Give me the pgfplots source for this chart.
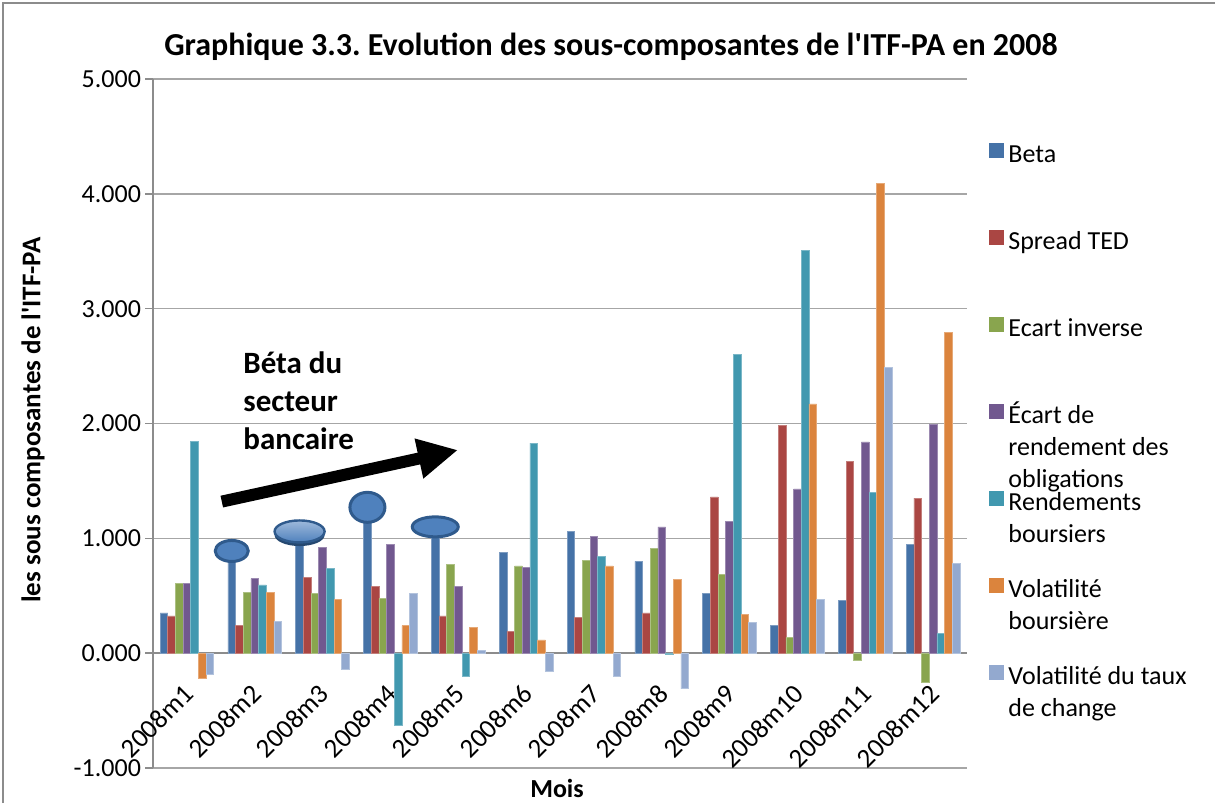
\documentclass[border=0pt]{standalone}
\usepackage{fontspec}
\setmainfont{Carlito}
\usepackage{pgfplots}
\usepackage{pgfplotstable}
\pgfplotsset{compat=1.18}
\usetikzlibrary{arrows.meta}
\frenchspacing

\definecolor{cBeta}{HTML}{4572A7}
\definecolor{cSpread}{HTML}{AA4643}
\definecolor{cEcInv}{HTML}{89A54E}
\definecolor{cEcRend}{HTML}{71588F}
\definecolor{cRend}{HTML}{4198AF}
\definecolor{cVolB}{HTML}{DB843D}
\definecolor{cVolT}{HTML}{93A9CF}
\definecolor{gridgray}{HTML}{A6A6A6}
\definecolor{axisgray}{HTML}{8C8C8C}
\definecolor{framegray}{HTML}{8C8C8C}
\definecolor{pinfill}{HTML}{4F81BD}
\definecolor{pinborder}{HTML}{2F5A8C}

\pgfplotstableread{
m  beta  spread ecinv  ecrend rend   volb   volt
1  0.35  0.325  0.607  0.607  1.844  -0.22  -0.18
2  0.89  0.24   0.53   0.65   0.595  0.53   0.28
3  1.06  0.66   0.517  0.92   0.74   0.47   -0.14
4  1.27  0.58   0.48   0.95   -0.63  0.24   0.52
5  1.10  0.325  0.77   0.58   -0.20  0.227  0.025
6  0.88  0.19   0.76   0.75   1.83   0.115  -0.16
7  1.06  0.31   0.81   1.02   0.84   0.76   -0.20
8  0.80  0.35   0.91   1.10   -0.01  0.64   -0.31
9  0.52  1.36   0.686  1.145  2.60   0.34   0.27
10 0.24  1.98   0.135  1.43   3.51   2.17   0.47
11 0.46  1.67   -0.06  1.84   1.40   4.09   2.49
12 0.95  1.35   -0.25  1.99   0.17   2.79   0.78
}\datatable

\pgfplotsset{sqlegend/.style={legend image code/.code={\fill[##1,draw=none] (0pt,-2pt) rectangle (7.5pt,5.5pt);}}}
\newcommand\legtxt[1]{\smash{\parbox[t]{3.6cm}{#1}}\rule{0pt}{10pt}}

\begin{document}
\begin{tikzpicture}
\useasboundingbox (0pt,0pt) rectangle (607.5pt,401.5pt);
\draw[framegray, line width=1.2pt] (1.5pt,0pt) -- (1.5pt,400pt) -- (607.5pt,400pt);
\begin{axis}[
  at={(76.5pt,17.5pt)}, anchor=south west,
  scale only axis, width=407pt, height=344.5pt,
  xmin=0.5, xmax=12.5, ymin=-1, ymax=5,
  ytick={-1,0,1,2,3,4,5},
  xtick={1,...,12},
  xticklabels={2008m1,2008m2,2008m3,2008m4,2008m5,2008m6,2008m7,2008m8,2008m9,2008m10,2008m11,2008m12},
  axis x line*=middle, axis y line*=left,
  hide obscured x ticks=false, hide obscured y ticks=false,
  axis line style={axisgray, line width=0.8pt},
  ytick style={axisgray, line width=0.8pt},
  xtick style={draw=none},
  tick align=outside, major tick length=4pt,
  ymajorgrids, grid style={gridgray, line width=0.8pt},
  ybar=0pt, bar width=0.113,
  /pgf/number format/assume math mode=true,
  yticklabel={\pgfmathprintnumber[fixed,fixed zerofill,precision=3]{\tick}},
  yticklabel style={font=\fontsize{13}{15}\selectfont, xshift=1.5pt},
  xticklabel style={xshift=-2.5pt, yshift=-10.5pt, font=\fontsize{13.5}{15}\selectfont, rotate=45, anchor=north east, inner sep=0pt},
  legend style={draw=none, fill=none, at={(1,1)}, anchor=north west, xshift=8pt, yshift=-27.5pt,
    font=\fontsize{13}{16}\selectfont, row sep=28pt, nodes={inner sep=2pt}},
  legend cell align=left,
]
\addplot[fill=cBeta, draw=cBeta!70!white, line width=0.3pt, sqlegend] table[x=m,y=beta]{\datatable};
\addlegendentry{\legtxt{Beta}}
\addplot[fill=cSpread, draw=cSpread!70!white, line width=0.3pt, sqlegend] table[x=m,y=spread]{\datatable};
\addlegendentry{\legtxt{Spread TED}}
\addplot[fill=cEcInv, draw=cEcInv!70!white, line width=0.3pt, sqlegend] table[x=m,y=ecinv]{\datatable};
\addlegendentry{\legtxt{Ecart inverse}}
\addplot[fill=cEcRend, draw=cEcRend!70!white, line width=0.3pt, sqlegend] table[x=m,y=ecrend]{\datatable};
\addlegendentry{\legtxt{Écart de\\rendement des\\obligations}}
\addplot[fill=cRend, draw=cRend!70!white, line width=0.3pt, sqlegend] table[x=m,y=rend]{\datatable};
\addlegendentry{\legtxt{Rendements\\boursiers}}
\addplot[fill=cVolB, draw=cVolB!70!white, line width=0.3pt, sqlegend] table[x=m,y=volb]{\datatable};
\addlegendentry{\legtxt{Volatilité\\boursière}}
\addplot[fill=cVolT, draw=cVolT!70!white, line width=0.3pt, sqlegend] table[x=m,y=volt]{\datatable};
\addlegendentry{\legtxt{Volatilité du taux\\de change}}
% pins
\draw[pinborder, line width=1.5pt, fill=pinfill] (axis cs:1.661,0.89) ellipse (8.25pt and 5.25pt);
\fill[pinborder!80!black] (axis cs:2.661,1.06) ++(0pt,-1.8pt) ellipse (12.5pt and 5.5pt);
\draw[pinborder, line width=1.2pt, top color=pinfill!55!white, bottom color=pinfill] (axis cs:2.661,1.06) ellipse (12.5pt and 5.5pt);
\draw[pinborder, line width=1.5pt, fill=pinfill] (axis cs:3.661,1.27) ellipse (8.75pt and 7.5pt);
\draw[pinborder, line width=1.5pt, fill=pinfill] (axis cs:4.661,1.10) ellipse (11.5pt and 5pt);
\end{axis}
\node[font=\bfseries\fontsize{16}{19}\selectfont] at (305.5pt,378pt) {Graphique 3.3. Evolution des sous-composantes de l\textquotesingle ITF-PA en 2008};
\node[rotate=90, font=\bfseries\fontsize{13.5}{15}\selectfont] at (16.5pt,191.5pt) {les sous composantes de l\textquotesingle ITF-PA};
\node[font=\bfseries\fontsize{13}{15}\selectfont] at (278.5pt,7.5pt) {Mois};
\node[anchor=north west, align=left, inner sep=0pt, font=\bfseries\fontsize{15.5}{19}\selectfont] at (121.5pt,226pt) {Béta du\\secteur\\bancaire};
\draw[line width=6pt, -{Triangle[length=20pt, width=19pt]}] (110.9pt,150.7pt) -- (229pt,176.5pt);
\end{tikzpicture}
\end{document}
